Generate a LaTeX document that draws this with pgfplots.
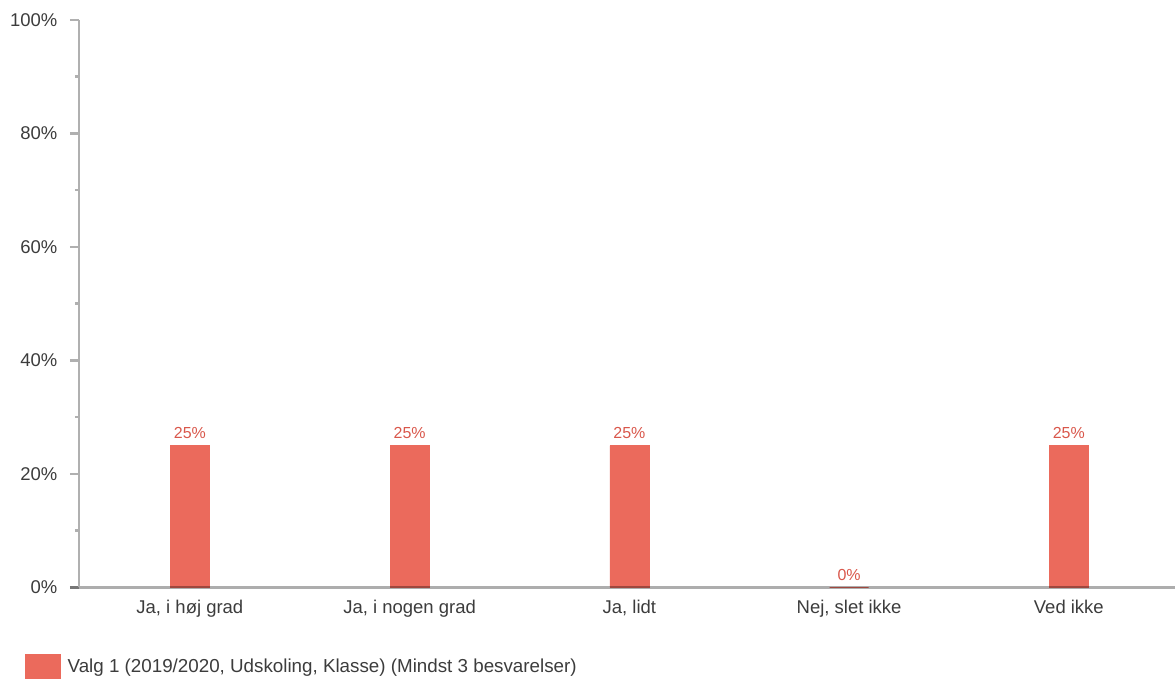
\documentclass[border=0pt]{standalone}
\usepackage{pgfplots}
\pgfplotsset{compat=1.18}
\usepackage{fontspec}
\setmainfont{Liberation Sans}
\definecolor{barcol}{HTML}{EB6A5C}
\definecolor{lblcol}{HTML}{D9574B}
\definecolor{txtcol}{HTML}{3C3C3C}
\definecolor{axcol}{HTML}{B0B0B0}
\newcommand\tf{\fontsize{18.5}{22}\selectfont}
\newcommand\gf{\fontsize{18.8}{22}\selectfont}
\newcommand\lf{\fontsize{16}{19}\selectfont}
\begin{document}
\begin{tikzpicture}[x=1pt,y=1pt]
\path (0,0) rectangle (1176,681);
\begin{axis}[
  at={(79pt,93pt)}, anchor=south west,
  scale only axis, width=1097pt, height=568pt,
  xmin=-0.505, xmax=4.482, ymin=0, ymax=100,
  ybar, bar width=39pt,
  /pgf/number format/assume math mode=true,
  axis x line*=bottom, axis y line*=left,
  axis on top,
  x axis line style={draw=black, draw opacity=0.32, line width=2.5pt, shorten <=-9pt},
  y axis line style={draw=axcol, line width=2.5pt},
  ytick={0,20,40,60,80,100},
  minor ytick={10,30,50,70,90},
  tick align=outside,
  major tick length=9pt, minor tick length=4pt,
  ytick style={draw=axcol, line width=2.5pt},
  xtick=data, xtick style={draw=none},
  xticklabels={{Ja, i høj grad},{Ja, i nogen grad},{Ja, lidt},{Nej, slet ikke},{Ved ikke}},
  yticklabel={\pgfmathprintnumber{\tick}\%},
  yticklabel style={font=\tf, text=txtcol, xshift=-9pt},
  xticklabel style={font=\tf, text=txtcol},
  nodes near coords={\pgfmathprintnumber{\pgfplotspointmeta}\%},
  nodes near coords style={font=\lf, text=lblcol, yshift=3pt},
  legend style={at={(-0.0492,-0.139)}, anchor=west, draw=none, fill=none,
    inner sep=0pt, font=\gf, text=txtcol,
    /tikz/every odd column/.style={column sep=5pt}},
  legend cell align=left,
  legend image code/.code={\fill[barcol] (0pt,-12.5pt) rectangle (35pt,12.5pt);},
]
\addplot[fill=barcol, draw=barcol, line width=0.5pt] coordinates {(0,25) (1,25) (2,25) (3,0) (4,25)};
\addlegendentry{Valg 1 (2019/2020, Udskoling, Klasse) (Mindst 3 besvarelser)}
\end{axis}
\end{tikzpicture}
\end{document}
